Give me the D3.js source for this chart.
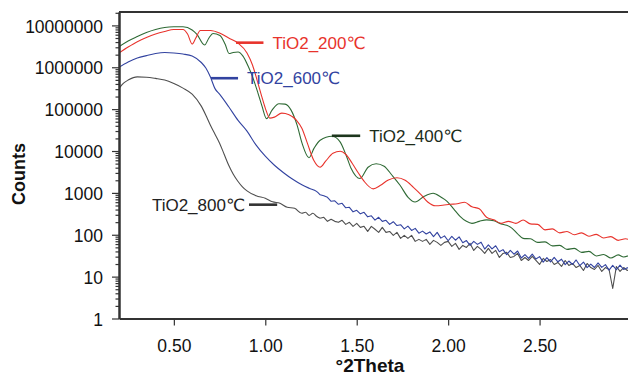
<!DOCTYPE html>
<html>
<head>
<meta charset="utf-8">
<script src="https://cdn.jsdelivr.net/npm/d3@7"></script>
<style>
  body { margin: 0; background: #fff; }
  svg { display: block; font-family: "Liberation Sans", Arial, "DejaVu Sans", sans-serif; }
</style>
</head>
<body>
<svg id="chart" width="628" height="383"></svg>
<script>
// values (x in °2Theta, y in counts)
const theta200 = [0.20, 0.25, 0.30, 0.35, 0.40, 0.45, 0.50, 0.55, 0.575, 0.60, 0.62, 0.645, 0.70, 0.75, 0.80, 0.85, 0.90, 0.93, 0.955, 0.98,
  1.00, 1.025, 1.05, 1.09, 1.13, 1.17, 1.20, 1.23, 1.265, 1.30, 1.33, 1.37, 1.41, 1.44, 1.475, 1.51, 1.54, 1.59, 1.63, 1.67,
  1.72, 1.765, 1.81, 1.85, 1.89, 1.93, 1.97, 2.01, 2.05, 2.09, 2.13, 2.17, 2.21, 2.25, 2.29, 2.33, 2.37, 2.41, 2.45, 2.49,
  2.53, 2.57, 2.61, 2.65, 2.69, 2.73, 2.77, 2.81, 2.85, 2.89, 2.93, 2.97, 3.00];
const counts200 = [2.19e6, 3.04e6, 4.08e6, 5.14e6, 6.22e6, 7.15e6, 7.98e6, 7.98e6, 6.22e6, 3.59e6, 5.0e6, 7.55e6, 7.55e6, 6.58e6, 5.0e6, 3.79e6, 2.19e6, 1.13e6, 4.94e5, 2.05e5,
  1.06e5, 6.09e4, 6.44e4, 8.02e4, 7.38e4, 5.46e4, 3.51e4, 1.54e4, 6020, 4100, 5700, 8860, 9890, 8380, 5110, 2940, 1900, 1250, 1520, 2000,
  2300, 2000, 1360, 926, 596, 491, 505, 534, 549, 596, 465, 417, 261, 227, 187, 209, 187, 225, 182, 177,
  131, 138, 111, 120, 100, 111, 92.5, 102, 84, 90, 73.4, 80, 74];

const theta400 = [0.20, 0.25, 0.30, 0.35, 0.40, 0.45, 0.50, 0.55, 0.60, 0.625, 0.668, 0.692, 0.714, 0.752, 0.78, 0.802, 0.824, 0.851, 0.878, 0.906,
  0.933, 0.96, 0.982, 1.007, 1.037, 1.075, 1.108, 1.141, 1.174, 1.201, 1.239, 1.267, 1.30, 1.365, 1.409, 1.442, 1.469, 1.518, 1.562, 1.606,
  1.65, 1.693, 1.737, 1.781, 1.819, 1.869, 1.918, 1.962, 1.994, 2.03, 2.065, 2.10, 2.13, 2.17, 2.21, 2.25, 2.29, 2.32, 2.35, 2.38,
  2.41, 2.45, 2.49, 2.53, 2.57, 2.61, 2.65, 2.69, 2.73, 2.77, 2.81, 2.85, 2.89, 2.93, 2.96, 3.00];
const counts400 = [3.09e6, 4.24e6, 5.42e6, 6.76e6, 7.98e6, 8.91e6, 9.26e6, 9.3e6, 7.77e6, 6.22e6, 3.4e6, 5.0e6, 6.4e6, 5.73e6, 3.59e6, 2.13e6, 2.25e6, 2.31e6, 1.85e6, 1.07e6,
  5.52e5, 2.42e5, 1.18e5, 5.93e4, 9.47e4, 1.35e5, 1.32e5, 9.47e4, 4.14e4, 1.54e4, 6920, 1.17e4, 1.81e4, 2.26e4, 1.65e4, 7940, 3880, 2200, 4100, 4970,
  4330, 2640, 1520, 785, 606, 829, 977, 785, 630, 417, 276, 209, 187, 209, 227, 215, 182, 168, 142, 105,
  82, 80, 65.8, 67.6, 54.2, 55.7, 44.7, 47.2, 37.9, 40, 31.2, 33.9, 27.9, 33, 29.5, 33.9];

const theta600 = [0.20, 0.25, 0.30, 0.35, 0.40, 0.45, 0.50, 0.55, 0.60, 0.65, 0.675, 0.70, 0.725, 0.75, 0.80, 0.85, 0.90, 0.95, 1.00, 1.05,
  1.10, 1.15, 1.20, 1.24, 1.28, 1.30, 1.32, 1.34, 1.36, 1.38, 1.40, 1.42, 1.44, 1.46, 1.48, 1.50, 1.52, 1.54, 1.56, 1.58,
  1.60, 1.62, 1.64, 1.66, 1.68, 1.70, 1.72, 1.74, 1.76, 1.78, 1.80, 1.82, 1.84, 1.86, 1.88, 1.90, 1.92, 1.94, 1.96, 1.98,
  2.00, 2.02, 2.04, 2.06, 2.08, 2.10, 2.12, 2.14, 2.16, 2.18, 2.20, 2.22, 2.24, 2.26, 2.28, 2.30, 2.32, 2.34, 2.36, 2.38,
  2.40, 2.42, 2.44, 2.46, 2.48, 2.50, 2.52, 2.54, 2.56, 2.58, 2.60, 2.62, 2.64, 2.66, 2.68, 2.70, 2.72, 2.74, 2.76, 2.78,
  2.80, 2.82, 2.84, 2.86, 2.88, 2.90, 2.92, 2.94, 2.96, 2.98, 3.00];
const counts600 = [9.95e5, 1.33e6, 1.66e6, 1.9e6, 2.13e6, 2.25e6, 2.19e6, 2.07e6, 1.85e6, 1.3e6, 9.57e5, 5.83e5, 3.09e5, 2.28e5, 1.14e5, 5.46e4, 2.98e4, 1.38e4, 7510, 4570,
  3030, 2110, 1560, 1290, 1090, 900, 852, 785, 630, 647, 534, 564, 440, 453, 353, 384, 316, 344, 268, 283,
  224, 261, 209, 221, 177, 205, 166, 174, 138, 161, 127, 142, 109, 122, 104, 117, 90, 114, 83, 94,
  72, 91.5, 74, 89, 64.7, 72.6, 55.7, 69.5, 58.9, 66.5, 45.4, 57.3, 46, 54.5, 39.3, 44.2, 33.5, 42.3, 34.3, 40.9,
  27.9, 33.5, 27.2, 34.6, 26.4, 30, 22.2, 28.5, 22.4, 28.9, 22.6, 26.1, 19.3, 23.6, 19.5, 25, 18.4, 22.3, 16.4, 19.9,
  16.5, 21.2, 16.6, 19.3, 14.3, 18.5, 14.6, 18.8, 14.8, 16.3, 15.5];

const theta800 = [0.20, 0.225, 0.25, 0.30, 0.35, 0.40, 0.45, 0.50, 0.55, 0.60, 0.65, 0.675, 0.70, 0.725, 0.75, 0.775, 0.80, 0.825, 0.85, 0.875,
  0.90, 0.95, 1.00, 1.04, 1.08, 1.12, 1.16, 1.20, 1.22, 1.24, 1.26, 1.28, 1.30, 1.32, 1.34, 1.36, 1.38, 1.40, 1.42, 1.44,
  1.46, 1.48, 1.50, 1.52, 1.54, 1.56, 1.58, 1.60, 1.62, 1.64, 1.66, 1.68, 1.70, 1.72, 1.74, 1.76, 1.78, 1.80, 1.82, 1.84,
  1.86, 1.88, 1.90, 1.92, 1.94, 1.96, 1.98, 2.00, 2.02, 2.04, 2.06, 2.08, 2.10, 2.12, 2.14, 2.16, 2.18, 2.20, 2.22, 2.24,
  2.26, 2.28, 2.30, 2.32, 2.34, 2.36, 2.38, 2.40, 2.42, 2.44, 2.46, 2.48, 2.50, 2.52, 2.54, 2.56, 2.58, 2.60, 2.62, 2.64,
  2.66, 2.68, 2.70, 2.72, 2.74, 2.76, 2.78, 2.80, 2.82, 2.84, 2.86, 2.88, 2.90, 2.92, 2.94, 2.96, 2.98, 3.00];
const counts800 = [3.13e5, 4.19e5, 4.94e5, 5.9e5, 5.8e5, 5.42e5, 4.94e5, 4.07e5, 3.18e5, 2.28e5, 1.18e5, 7.18e4, 4.14e4, 2.52e4, 1.54e4, 8380, 4570, 2790, 1900, 1400,
  1120, 853, 743, 612, 564, 453, 428, 325, 344, 291, 325, 276, 247, 261, 209, 234, 209, 198, 221, 177,
  198, 159, 187, 150, 159, 120, 159, 135, 114, 150, 114, 120, 96.7, 114, 82, 96.7, 82, 96.7, 69.5, 77.6,
  69.5, 77.6, 58.9, 73.4, 65.8, 55.7, 65.8, 69.5, 52.7, 62.2, 44.7, 55.7, 49.9, 62.2, 42.3, 52.7, 44.7, 35.8, 47.2, 35.8,
  42.3, 28.7, 35.8, 37.9, 28.7, 30.4, 35.8, 24.3, 28.7, 24.3, 30.4, 24.3, 19.5, 27.2, 23, 25.7, 19.5, 21.8, 17.5, 24.3,
  18.5, 20.6, 16.5, 18.5, 14, 20.6, 16.5, 14.8, 18.5, 13.3, 16.5, 14.8, 5.2, 17.5, 13.3, 16.5, 14, 15];

const seriesNames = ["TiO2_200℃", "TiO2_400℃", "TiO2_600℃", "TiO2_800℃"];
const xTicks = [0.5, 1.0, 1.5, 2.0, 2.5];
const yTicks = [1, 10, 100, 1000, 10000, 100000, 1000000, 10000000];

const width = 628, height = 383;
const plotLeft = 119, plotTop = 12, plotBottom = 318.5, plotRight = 631;

const svg = d3.select("#chart");
svg.append("rect").attr("width", width).attr("height", height).attr("fill", "#fff");

const x = d3.scaleLinear().domain([0.2, 3.0]).range([plotLeft, plotRight]);
const y = d3.scaleLog().domain([1, Math.pow(10, 7.32)]).range([plotBottom, plotTop]);

svg.append("clipPath").attr("id", "plot")
  .append("rect").attr("x", plotLeft).attr("y", plotTop)
  .attr("width", plotRight - plotLeft).attr("height", plotBottom - plotTop);

// curves: smooth part drawn with a monotone curve, noisy tail drawn straight
const smoothLine = d3.line().x(d => x(d[0])).y(d => y(d[1])).curve(d3.curveMonotoneX);
const rawLine = d3.line().x(d => x(d[0])).y(d => y(d[1]));
const series = [
  { theta: theta400, counts: counts400, color: "#2f6a35", noisyFrom: 9 },
  { theta: theta200, counts: counts200, color: "#e8332c", noisyFrom: 9 },
  { theta: theta800, counts: counts800, color: "#4f4f4f", noisyFrom: 1.3 },
  { theta: theta600, counts: counts600, color: "#3243a0", noisyFrom: 1.3 }
];
const curves = svg.append("g").attr("clip-path", "url(#plot)");
series.forEach(s => {
  const pts = d3.zip(s.theta, s.counts);
  const head = pts.filter(p => p[0] <= s.noisyFrom);
  const tail = pts.filter(p => p[0] >= s.noisyFrom);
  [[head, smoothLine], [tail, rawLine]].forEach(([part, gen]) => {
    if (part.length < 2) return;
    curves.append("path")
      .attr("d", gen(part))
      .attr("fill", "none")
      .attr("stroke", s.color)
      .attr("stroke-width", 1.1)
      .attr("stroke-linejoin", "round");
  });
});

// axes
const xAxis = svg.append("g")
  .attr("transform", "translate(0," + plotBottom + ")")
  .call(d3.axisBottom(x).tickValues(xTicks).tickFormat(d3.format(".2f")).tickSize(7).tickSizeOuter(0).tickPadding(14));

const minor = [];
for (let e = 0; e < 8; e++) for (let m = 2; m <= 9; m++) if (m * Math.pow(10, e) < Math.pow(10, 7.32)) minor.push(m * Math.pow(10, e));
svg.append("g")
  .attr("transform", "translate(" + plotLeft + ",0)")
  .call(d3.axisLeft(y).tickValues(minor).tickFormat("").tickSize(3.5).tickSizeOuter(0));

const yAxis = svg.append("g")
  .attr("transform", "translate(" + plotLeft + ",0)")
  .call(d3.axisLeft(y).tickValues(yTicks).tickFormat(d3.format("d")).tickSize(7).tickSizeOuter(0).tickPadding(9));

svg.selectAll(".domain").attr("stroke", "#333").attr("stroke-width", 2);
svg.selectAll(".tick line").attr("stroke", "#333").attr("stroke-width", 1.2);
xAxis.selectAll("text").attr("font-size", 17.5).attr("fill", "#111");
yAxis.selectAll("text").attr("font-size", 17.5).attr("fill", "#111").attr("dy", "0.38em");

// top frame line
svg.append("line")
  .attr("x1", plotLeft).attr("x2", width)
  .attr("y1", plotTop).attr("y2", plotTop)
  .attr("stroke", "#333").attr("stroke-width", 2);

// axis titles
svg.append("text")
  .attr("transform", "translate(25,174) rotate(-90)")
  .attr("text-anchor", "middle")
  .attr("font-size", 18).attr("font-weight", "bold").attr("fill", "#111")
  .text("Counts");
svg.append("text")
  .attr("x", 370).attr("y", 371.5)
  .attr("text-anchor", "middle")
  .attr("font-size", 19).attr("font-weight", "bold").attr("fill", "#111")
  .text("°2Theta");

// series labels with short leader lines
const labels = [
  { name: seriesNames[0], t0: 0.84, t1: 0.99, c: 3.87e6, color: "#e8332c", line: "#e8332c", side: "right" },
  { name: seriesNames[2], t0: 0.703, t1: 0.851, c: 5.48e5, color: "#3243a0", line: "#3243a0", side: "right" },
  { name: seriesNames[1], t0: 1.364, t1: 1.519, c: 2.31e4, color: "#1c2c1a", line: "#1d361d", side: "right" },
  { name: seriesNames[3], t0: 0.911, t1: 1.065, c: 523, color: "#222", line: "#333", side: "left" }
];
const lab = svg.append("g");
labels.forEach(l => {
  lab.append("line")
    .attr("x1", x(l.t0)).attr("x2", x(l.t1))
    .attr("y1", y(l.c)).attr("y2", y(l.c))
    .attr("stroke", l.line).attr("stroke-width", 2.6);
  lab.append("text")
    .attr("x", l.side === "right" ? x(l.t1) + 9 : x(l.t0) - 4)
    .attr("y", y(l.c) + 6)
    .attr("text-anchor", l.side === "right" ? "start" : "end")
    .attr("font-size", 17)
    .attr("fill", l.color)
    .text(l.name);
});
</script>
</body>
</html>
